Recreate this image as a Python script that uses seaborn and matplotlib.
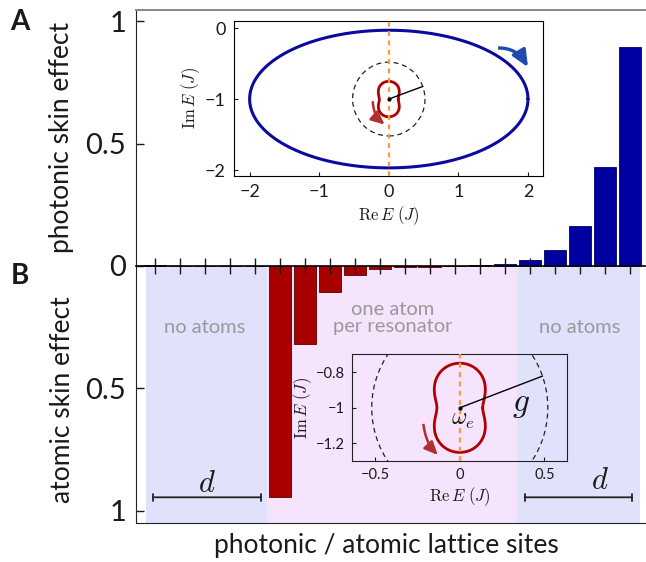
import numpy as np
import matplotlib
matplotlib.use('Agg')
import matplotlib.pyplot as plt
import seaborn as sns
from matplotlib.patches import Circle, FancyArrowPatch

# lattice sites and the two skin-effect profiles
sites = list(range(1, 21))
photonic_skin = [0.003, 0, 0, 0, 0, 0, 0, 0, 0, 0,
                 0, 0, 0.001, 0.003, 0.008, 0.025, 0.065, 0.165, 0.403, 0.893]
atomic_skin = [0, 0, 0, 0, 0, 0.944, 0.317, 0.107, 0.037, 0.0135,
               0.005, 0.003, 0.001, 0, 0, 0, 0, 0, 0, 0]

# regions along the lattice (site index units, 0 = first site)
region_edges = [-0.35, 4.5, 14.5, 19.4]
region_names = ['no atoms', 'one atom\nper resonator', 'no atoms']

# complex spectra: photonic ellipse, atomic loop around omega_e, coupling circle g
ellipse_re, ellipse_im = 2.0, 0.97
omega_e = -1.0
g = 0.52
g_angle = np.deg2rad(20)
# atomic loop in polar form r(phi) = r0 + r2 cos 2phi + r4 cos 4phi
loop_r0, loop_r2, loop_r4 = 0.199, -0.0575, -0.0063

bar_blue = '#0000a0'
bar_red = '#a80000'
shade_blue = '#e0e2fc'
shade_pink = '#f6e4fc'
line_blue = '#0a0aa0'
line_red = '#b00000'
orange = '#ff9a3c'
note_gray = '#999999'
ink = '#1a1a1a'

sns.set_style('ticks')
plt.rcParams['font.family'] = ['Lato', 'DejaVu Sans']
plt.rcParams['mathtext.fontset'] = 'cm'
plt.rcParams['text.color'] = ink
plt.rcParams['axes.labelcolor'] = ink
plt.rcParams['xtick.color'] = ink
plt.rcParams['ytick.color'] = ink

W, H = 646, 562
fig = plt.figure(figsize=(W / 100, H / 100), dpi=100)


def box(x0, y0, x1, y1):
    return [x0 / W, (H - y1) / H, (x1 - x0) / W, (y1 - y0) / H]


ax_bot = fig.add_axes(box(136, 266, 672, 523))
ax_top = fig.add_axes(box(136, 10, 672, 266))
ax_top.set_zorder(3)
xlim = (-0.76, 20.7)

# --- panel A: photonic bars
sns.barplot(x=sites, y=photonic_skin, ax=ax_top, color=bar_blue, saturation=1,
            width=0.88, edgecolor='#00006a', linewidth=0.6)
ax_top.set_xlim(xlim)
ax_top.set_ylim(0, 1.045)
ax_top.set_yticks([0, 0.5, 1])
ax_top.set_yticklabels(['0', '0.5', '1'])
ax_top.set_xticks(range(len(sites)))
ax_top.set_xticklabels([])
ax_top.tick_params(axis='y', direction='in', length=6, width=1, labelsize=21, pad=7)
ax_top.tick_params(axis='x', direction='inout', length=11, width=1)
ax_top.spines['right'].set_visible(False)
ax_top.spines['top'].set_color('#888888')
ax_top.spines['top'].set_linewidth(1.4)
ax_top.spines['left'].set_color('#222222')
ax_top.spines['bottom'].set_color('black')
ax_top.spines['bottom'].set_linewidth(1.2)
ax_top.set_xlabel('')

# --- panel B: atomic bars with shaded regions
shades = [shade_blue, shade_pink, shade_blue]
for i, c in enumerate(shades):
    ax_bot.axvspan(region_edges[i], region_edges[i + 1], color=c, lw=0, zorder=0)
sns.barplot(x=sites, y=atomic_skin, ax=ax_bot, color=bar_red, saturation=1,
            width=0.9, edgecolor='#5a0000', linewidth=0.6, zorder=2)
ax_bot.set_xlim(xlim)
ax_bot.set_ylim(1.05, 0)
ax_bot.set_yticks([0.5, 1])
ax_bot.set_yticklabels(['0.5', '1'])
ax_bot.set_xticks([])
ax_bot.tick_params(axis='y', direction='in', length=6, width=1, labelsize=21, pad=7)
ax_bot.spines['right'].set_visible(False)
ax_bot.spines['top'].set_visible(False)
ax_bot.spines['left'].set_color('#222222')
ax_bot.spines['bottom'].set_color('#222222')
ax_bot.set_xlabel('')

note_pos = [(2.0, 0.253), (9.52, 0.212), (17.0, 0.253)]
for (x, y), name in zip(note_pos, region_names):
    ax_bot.text(x, y, name, color=note_gray, fontsize=14.5,
                ha='center', va='center', linespacing=0.95, zorder=3)

for x0, x1, xd, yd in [(-0.07, 4.23, 2.08, 0.886), (14.8, 19.09, 17.8, 0.873)]:
    ax_bot.annotate('', xy=(x0, 0.945), xytext=(x1, 0.945), zorder=4,
                    arrowprops=dict(arrowstyle='|-|,widthA=0.25,widthB=0.25',
                                    lw=1.3, color='#222222', shrinkA=0, shrinkB=0))
    ax_bot.text(xd, yd, r'$d$', fontsize=22, ha='center', va='center', zorder=4)

# axis labels and panel letters
fig.text(62 / W, 1 - 137 / H, 'photonic skin effect', rotation=90, fontsize=19,
         ha='center', va='center')
fig.text(62 / W, 1 - 400 / H, 'atomic skin effect', rotation=90, fontsize=19,
         ha='center', va='center')
fig.text(386 / W, 1 - 546 / H, 'photonic / atomic lattice sites', fontsize=19,
         ha='center', va='center')
fig.text(20 / W, 1 - 22 / H, 'A', fontsize=20, fontweight='bold', ha='center', va='center')
fig.text(20 / W, 1 - 276 / H, 'B', fontsize=20, fontweight='bold', ha='center', va='center')

# spectra curves
t = np.linspace(0, 2 * np.pi, 400)
ell_x = ellipse_re * np.cos(t)
ell_y = omega_e + ellipse_im * np.sin(t)
loop_r = loop_r0 + loop_r2 * np.cos(2 * t) + loop_r4 * np.cos(4 * t)
loop_x = loop_r * np.cos(t)
loop_y = omega_e + loop_r * np.sin(t)
g_end = (g * np.cos(g_angle), omega_e + g * np.sin(g_angle))


def draw_spectrum(ax, with_ellipse):
    if with_ellipse:
        sns.lineplot(x=ell_x, y=ell_y, sort=False, estimator=None, ax=ax,
                     color=line_blue, lw=2.2)
    ax.add_patch(Circle((0, omega_e), g, fill=False, ls=(0, (4, 3)), lw=0.9,
                        color='#222222', zorder=2))
    sns.lineplot(x=loop_x, y=loop_y, sort=False, estimator=None, ax=ax,
                 color=line_red, lw=2.0)
    ax.axvline(0, color=orange, ls=(0, (2.2, 2)), lw=1.6, zorder=3)
    ax.plot([0, g_end[0]], [omega_e, g_end[1]], color='black', lw=1, zorder=4)
    ax.plot([0], [omega_e], 'o', color='black', ms=2, zorder=4)


def curved_arrow(ax, p0, c, p2, color, lw, head):
    # quadratic bezier body, arrow head on the last bit
    s = np.linspace(0, 0.8, 30)[:, None]
    p0, c, p2 = np.array(p0), np.array(c), np.array(p2)
    pts = (1 - s) ** 2 * p0 + 2 * (1 - s) * s * c + s ** 2 * p2
    ax.plot(pts[:, 0], pts[:, 1], color=color, lw=lw, solid_capstyle='butt', zorder=5)
    ax.add_patch(FancyArrowPatch(tuple(pts[-3]), tuple(p2),
                                 arrowstyle=f'-|>,head_length={head},head_width={head * 0.45}',
                                 mutation_scale=1, lw=lw, color=color,
                                 shrinkA=0, shrinkB=0, zorder=5))


# --- inset A
axA = fig.add_axes(box(234.3, 21, 543.3, 175.7))
axA.set_zorder(5)
draw_spectrum(axA, True)
axA.set_xlim(-2.22, 2.22)
axA.set_ylim(-2.08, 0.1)
axA.set_xticks([-2, -1, 0, 1, 2])
axA.set_xticklabels(['\u22122', '\u22121', '0', '1', '2'])
axA.set_yticks([0, -1, -2])
axA.set_yticklabels(['0', '\u22121', '\u22122'])
axA.tick_params(direction='in', length=3, labelsize=13, pad=6)
axA.set_xlabel(r'$\mathrm{Re}\,E\ (J)$', fontsize=12, labelpad=3)
axA.set_ylabel(r'$\mathrm{Im}\,E\ (J)$', fontsize=12, labelpad=2)
curved_arrow(axA, (1.57, -0.28), (1.88, -0.28), (2.0, -0.55), '#1f4ab0', 2.4, 10)
curved_arrow(axA, (-0.23, -1.03), (-0.22, -1.26), (-0.06, -1.36), '#b03030', 1.8, 8)
for s in axA.spines.values():
    s.set_color('black')

# --- inset B (zoom on the atomic loop)
axB = fig.add_axes(box(352.3, 354.3, 567.3, 461.3))
axB.set_zorder(5)
axB.patch.set_alpha(0)
draw_spectrum(axB, False)
axB.set_xlim(-0.635, 0.635)
axB.set_ylim(-1.30, -0.70)
axB.set_xticks([-0.5, 0, 0.5])
axB.set_xticklabels(['\u22120.5', '0', '0.5'])
axB.set_yticks([-0.8, -1, -1.2])
axB.set_yticklabels(['\u22120.8', '\u22121', '\u22121.2'])
axB.tick_params(direction='in', length=3, labelsize=10.5, pad=5)
axB.set_xlabel(r'$\mathrm{Re}\,E\ (J)$', fontsize=12, labelpad=2)
axB.set_ylabel(r'$\mathrm{Im}\,E\ (J)$', fontsize=12, labelpad=2)
axB.text(0.02, -1.07, r'$\omega_e$', fontsize=17, ha='center', va='center', zorder=6)
axB.text(0.36, -0.985, r'$g$', fontsize=24, ha='center', va='center', zorder=6)
curved_arrow(axB, (-0.215, -1.09), (-0.2, -1.21), (-0.13, -1.265), '#b03030', 1.8, 8)
for s in axB.spines.values():
    s.set_color('#222222')

fig.savefig('out.png', dpi=100)
